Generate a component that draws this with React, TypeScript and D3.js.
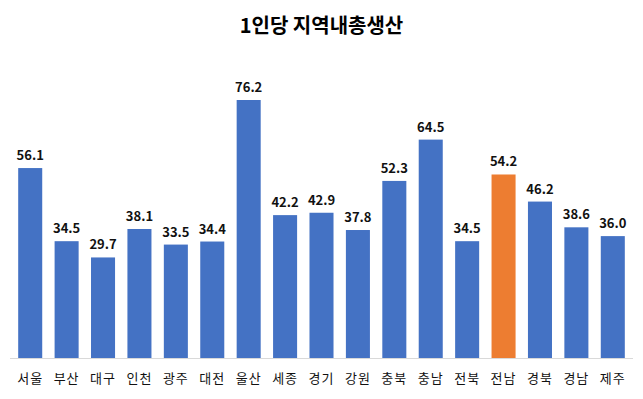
import * as d3 from 'd3';

const regions = ['서울', '부산', '대구', '인천', '광주', '대전', '울산', '세종', '경기', '강원', '충북', '충남', '전북', '전남', '경북', '경남', '제주'];
const values = [56.1, 34.5, 29.7, 38.1, 33.5, 34.4, 76.2, 42.2, 42.9, 37.8, 52.3, 64.5, 34.5, 54.2, 46.2, 38.6, 36.0];
const highlight = '전남';

export default function App() {
    const width = 643;
    const height = 399;
    const margin = { top: 100, right: 12, bottom: 41, left: 12 };
    const innerWidth = width - margin.left - margin.right;
    const innerHeight = height - margin.top - margin.bottom;
    const font = "'Malgun Gothic', 'Noto Sans CJK KR', 'Noto Sans', sans-serif";

    const xScale = d3
        .scaleBand()
        .domain(regions)
        .range([0, innerWidth])
        .paddingInner(0.34)
        .paddingOuter(0.17);

    const yScale = d3
        .scaleLinear()
        .domain([0, 76.2])
        .range([innerHeight, 0]);

    return (
        <svg width={width} height={height} style={{ position: 'absolute', left: 0, top: 0 }}>
            <rect width={width} height={height} fill="#fff" />
            <text x={width / 2} y={33} textAnchor="middle" fontFamily={font} fontSize={20} fontWeight="bold" fill="#000">
                1인당 지역내총생산
            </text>
            <g transform={`translate(${margin.left}, ${margin.top})`}>
                {regions.map((r, i) => (
                    <g key={r}>
                        <rect
                            x={xScale(r)}
                            y={yScale(values[i])}
                            width={xScale.bandwidth()}
                            height={innerHeight - yScale(values[i])}
                            fill={r === highlight ? '#ED7D31' : '#4472C4'}
                        />
                        <text
                            x={xScale(r)! + xScale.bandwidth() / 2}
                            y={yScale(values[i]) - 8}
                            textAnchor="middle"
                            fontFamily={font}
                            fontSize={13}
                            fontWeight="bold"
                            fill="#111"
                        >
                            {values[i].toFixed(1)}
                        </text>
                        <text
                            x={xScale(r)! + xScale.bandwidth() / 2}
                            y={innerHeight + 25}
                            textAnchor="middle"
                            fontFamily={font}
                            fontSize={13}
                            letterSpacing={1}
                            fill="#111"
                        >
                            {r}
                        </text>
                    </g>
                ))}
                <line x1={-2} x2={innerWidth + 2} y1={innerHeight + 0.5} y2={innerHeight + 0.5} stroke="#d9d9d9" />
            </g>
        </svg>
    );
}
